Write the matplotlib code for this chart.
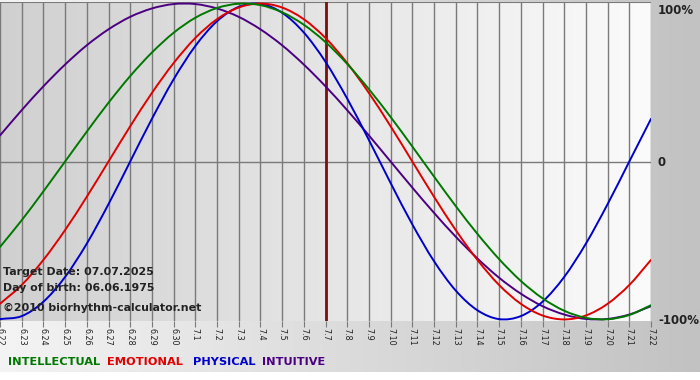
import matplotlib.pyplot as plt
import numpy as np
from matplotlib.colors import LinearSegmentedColormap
from matplotlib.path import Path
from matplotlib.patches import PathPatch

# Data (values in -1..1, one per day from 6.22 to 7.22)
days = ["6.22", "6.23", "6.24", "6.25", "6.26", "6.27", "6.28", "6.29", "6.30",
        "7.1", "7.2", "7.3", "7.4", "7.5", "7.6", "7.7", "7.8", "7.9", "7.10",
        "7.11", "7.12", "7.13", "7.14", "7.15", "7.16", "7.17", "7.18", "7.19",
        "7.20", "7.21", "7.22"]
physical = [-0.998, -0.979, -0.888, -0.731, -0.520, -0.270, 0.000, 0.270, 0.520,
            0.731, 0.888, 0.979, 0.998, 0.942, 0.817, 0.631, 0.398, 0.136, -0.136,
            -0.398, -0.631, -0.817, -0.942, -0.998, -0.979, -0.888, -0.731, -0.520,
            -0.270, 0.000, 0.270]
emotional = [-0.901, -0.782, -0.623, -0.434, -0.223, 0.000, 0.223, 0.434, 0.623,
             0.782, 0.901, 0.975, 1.000, 0.975, 0.901, 0.782, 0.623, 0.434, 0.223,
             0.000, -0.223, -0.434, -0.623, -0.782, -0.901, -0.975, -1.000, -0.975,
             -0.901, -0.782, -0.623]
intellectual = [-0.541, -0.372, -0.189, 0.000, 0.189, 0.372, 0.541, 0.690, 0.815,
                0.910, 0.972, 0.999, 0.990, 0.945, 0.866, 0.756, 0.618, 0.458, 0.282,
                0.095, -0.095, -0.282, -0.458, -0.618, -0.756, -0.866, -0.945, -0.990,
                -0.999, -0.972, -0.910]
intuitive = [0.165, 0.325, 0.476, 0.614, 0.736, 0.837, 0.916, 0.969, 0.997,
             0.997, 0.969, 0.916, 0.837, 0.736, 0.614, 0.476, 0.325, 0.165, 0.000,
             -0.165, -0.325, -0.476, -0.614, -0.736, -0.837, -0.916, -0.969, -0.997,
             -0.997, -0.969, -0.916]
target_day = "7.7"


def smooth_line(ax, xs, ys, color):
    # catmull-rom style bezier through the daily points
    xs = np.asarray(xs, float)
    ys = np.asarray(ys, float)
    pts = np.column_stack([xs, ys])
    ext = np.vstack([2 * pts[0] - pts[1], pts, 2 * pts[-1] - pts[-2]])
    verts = [pts[0]]
    codes = [Path.MOVETO]
    for i in range(len(pts) - 1):
        p0, p1, p2, p3 = ext[i], ext[i + 1], ext[i + 2], ext[i + 3]
        verts += [p1 + (p2 - p0) / 6, p2 - (p3 - p1) / 6, p2]
        codes += [Path.CURVE4] * 3
    ax.add_patch(PathPatch(Path(verts, codes), fill=False, edgecolor=color,
                           lw=1.4, zorder=3, capstyle="round"))


fig = plt.figure(figsize=(7, 3.8), dpi=100, facecolor="white")

# outer background gradient (light left -> grey right)
bg = fig.add_axes([0, 8 / 380, 1, 372 / 380])
bg.imshow(np.linspace(0, 1, 256).reshape(1, -1), aspect="auto", extent=[0, 1, 0, 1],
          cmap=LinearSegmentedColormap.from_list("outer", ["#f4f4f4", "#c2c2c2"]))
bg.axis("off")

ax = fig.add_axes([0, 59 / 380, 651 / 700, 319 / 380])
x = np.arange(len(days))
ax.set_xlim(0, len(days) - 1)
ax.set_ylim(-1.01, 1.01)
ax.imshow(np.linspace(0, 1, 256).reshape(1, -1), aspect="auto",
          extent=[0, len(days) - 1, -1.01, 1.01], zorder=0,
          cmap=LinearSegmentedColormap.from_list("inner", ["#d0d0d0", "#fbfbfb"]))

for xi in x:
    ax.axvline(xi, color="#7a7a7a", lw=1, zorder=1)
ax.axhline(0, color="#7a7a7a", lw=1, zorder=1)
ax.axhline(1.01, color="#7a7a7a", lw=1.5, zorder=1)

ax.axvline(days.index(target_day), color="#7a1010", lw=2, zorder=2)

smooth_line(ax, x, intuitive, "#4b0082")
smooth_line(ax, x, physical, "#0000cc")
smooth_line(ax, x, emotional, "#e00000")
smooth_line(ax, x, intellectual, "#007800")

for s in ax.spines.values():
    s.set_visible(False)
ax.set_xticks(x)
ax.set_xticklabels(days, rotation=-90, fontsize=5.8, color="#222222")
ax.tick_params(axis="x", length=4, color="#7a7a7a", pad=1)
ax.yaxis.tick_right()
ax.set_yticks([1, 0, -1])
ax.set_yticklabels(["100%", "0", "-100%"], fontsize=8.5, fontweight="bold", color="#222222")
ax.tick_params(axis="y", length=0, pad=5)
ax.get_yticklabels()[0].set_va("top")

info = {"fontsize": 7.9, "fontweight": "bold", "color": "#222222"}
ax.text(0.004, 0.145, "Target Date: 07.07.2025", transform=ax.transAxes, **info)
ax.text(0.004, 0.095, "Day of birth: 06.06.1975", transform=ax.transAxes, **info)
ax.text(0.004, 0.032, "\u00a92010 biorhythm-calculator.net", transform=ax.transAxes, **info)

# legend row
legend = [("INTELLECTUAL", "#007800"), ("EMOTIONAL", "#e00000"),
          ("PHYSICAL", "#0000cc"), ("INTUITIVE", "#4b0082")]
lx = [8, 107, 193, 262]
for (name, col), px in zip(legend, lx):
    fig.text(px / 700, 1 - 362 / 380, name, color=col, fontsize=8.2,
             fontweight="bold", va="center")

fig.savefig("out.png", dpi=100)
